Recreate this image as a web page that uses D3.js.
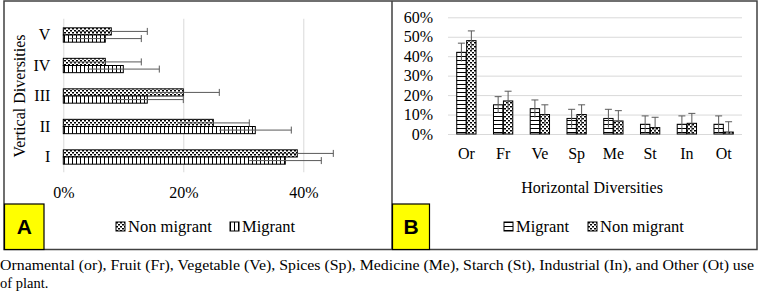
<!DOCTYPE html>
<html lang="en">
<head>
    <meta charset="UTF-8">
    <title>Vertical and Horizontal Diversities</title>
    <style>
        body
        {
            margin: 0;
            background: #ffffff;
        }

        text
        {
            font-family: "Liberation Serif", "Times New Roman", Times, serif;
            fill: #000000;
        }

        .tick text
        {
            font-size: 16px;
            font-family: "Liberation Serif", "Times New Roman", Times, serif;
        }

        .grid .tick line
        {
            stroke: #d9d9d9;
            stroke-width: 1;
        }

        .legend-text
        {
            font-size: 16.5px;
        }

        .panel-tag
        {
            font-family: "Liberation Sans", Arial, sans-serif;
            font-weight: bold;
            font-size: 21px;
        }
    </style>
</head>
<body>

    <svg width="761" height="306"></svg>

    <script src="https://d3js.org/d3.v7.min.js"></script>

    <script>

        // Panel A: vertical diversities (percent)
        const vertCategories = ['I', 'II', 'III', 'IV', 'V'];
        const vertNonMigrant = [39, 25, 20, 7, 8];
        const vertMigrant = [37, 32, 14, 10, 7];
        const vertNonMigrantErr = [6, 6, 6, 6, 6];
        const vertMigrantErr = [6, 6, 6, 6, 6];
        const vertTicks = [0, 20, 40];

        // Panel B: horizontal diversities (percent)
        const horizCategories = ['Or', 'Fr', 'Ve', 'Sp', 'Me', 'St', 'In', 'Ot'];
        const horizMigrant = [42, 15, 13, 8, 8, 5, 5, 5];
        const horizNonMigrant = [48, 17, 10, 10, 6.7, 3.3, 5.5, 1];
        const horizMigrantErr = [4.7, 4.2, 4.5, 4.7, 4.7, 4.3, 4.3, 4.3];
        const horizNonMigrantErr = [5, 5, 5, 5, 5.3, 5.3, 5.1, 5.3];
        const horizTicks = [0, 10, 20, 30, 40, 50, 60];

        const seriesNames = ['Non migrant', 'Migrant'];

        const caption1 = 'Ornamental (or), Fruit (Fr), Vegetable (Ve), Spices (Sp), Medicine (Me), Starch (St), Industrial (In), and Other (Ot) use';
        const caption2 = 'of plant.';

        const errColor = '#595959';
        const capSize = 7;

        const svg = d3.select('svg');

        // Fill patterns
        const defs = svg.append('defs');

        const dots = defs
            .append('pattern')
            .attr('id', 'dots')
            .attr('patternUnits', 'userSpaceOnUse')
            .attr('width', 4)
            .attr('height', 4);
        dots.append('rect').attr('width', 4).attr('height', 4).attr('fill', '#fff');
        dots.append('rect').attr('x', 0).attr('y', 0).attr('width', 2).attr('height', 1.5).attr('fill', '#000');
        dots.append('rect').attr('x', 2).attr('y', 2).attr('width', 2).attr('height', 1.5).attr('fill', '#000');

        const vlines = defs
            .append('pattern')
            .attr('id', 'vlines')
            .attr('patternUnits', 'userSpaceOnUse')
            .attr('width', 4)
            .attr('height', 4);
        vlines.append('rect').attr('width', 4).attr('height', 4).attr('fill', '#fff');
        vlines.append('rect').attr('x', 0).attr('y', 0).attr('width', 1).attr('height', 4).attr('fill', '#000');

        const hlines = defs
            .append('pattern')
            .attr('id', 'hlines')
            .attr('patternUnits', 'userSpaceOnUse')
            .attr('width', 4)
            .attr('height', 4);
        hlines.append('rect').attr('width', 4).attr('height', 4).attr('fill', '#fff');
        hlines.append('rect').attr('x', 0).attr('y', 0).attr('width', 4).attr('height', 1).attr('fill', '#000');

        // ---------- Panel A ----------

        const aLeft = 63.3, aTop = 19.75, aBottom = 172.25;

        const xA = d3.scaleLinear()
            .domain([0, 40])
            .range([aLeft, aLeft + 240]);

        const yA = d3.scaleBand()
            .domain(vertCategories.slice().reverse())
            .range([aTop, aBottom])
            .paddingInner(0.53)
            .paddingOuter(0.265);

        const yAInner = d3.scaleBand()
            .domain(seriesNames)
            .range([0, yA.bandwidth()]);

        svg.append('g')
            .attr('class', 'grid')
            .attr('transform', 'translate(0 ' + aBottom + ')')
            .call(d3.axisBottom(xA)
                .tickValues(vertTicks)
                .tickSize(-(aBottom - aTop + 1))
                .tickPadding(14)
                .tickFormat(function (d) { return d + '%'; }))
            .call(function (g) { g.select('.domain').remove(); });

        svg.append('g')
            .attr('transform', 'translate(' + aLeft + ' 0)')
            .call(d3.axisLeft(yA).tickSize(0).tickPadding(13))
            .call(function (g) { g.select('.domain').remove(); });

        const vertRows = vertCategories.map(function (c, i) {
            return [
                { cat: c, series: 'Non migrant', value: vertNonMigrant[i], err: vertNonMigrantErr[i], fill: 'url(#dots)' },
                { cat: c, series: 'Migrant', value: vertMigrant[i], err: vertMigrantErr[i], fill: 'url(#vlines)' }
            ];
        }).flat();

        svg.append('g')
            .selectAll('rect')
            .data(vertRows)
            .join('rect')
            .attr('x', xA(0))
            .attr('y', function (d) { return yA(d.cat) + yAInner(d.series); })
            .attr('width', function (d) { return xA(d.value) - xA(0); })
            .attr('height', yAInner.bandwidth())
            .attr('fill', function (d) { return d.fill; })
            .attr('stroke', '#000')
            .attr('stroke-width', 1);

        const errA = svg.append('g')
            .attr('stroke', errColor)
            .attr('stroke-width', 1)
            .selectAll('g')
            .data(vertRows)
            .join('g')
            .attr('transform', function (d) {
                return 'translate(0 ' + (yA(d.cat) + yAInner(d.series) + yAInner.bandwidth() / 2) + ')';
            });
        errA.append('line')
            .attr('x1', function (d) { return xA(d.value - d.err); })
            .attr('x2', function (d) { return xA(d.value + d.err); });
        errA.append('line')
            .attr('x1', function (d) { return xA(d.value + d.err); })
            .attr('x2', function (d) { return xA(d.value + d.err); })
            .attr('y1', -capSize / 2)
            .attr('y2', capSize / 2);

        svg.append('text')
            .text('Vertical Diversities')
            .attr('transform', 'translate(25 96) rotate(-90)')
            .attr('text-anchor', 'middle')
            .style('font-size', '16px');

        // ---------- Panel B ----------

        const bLeft = 448, bRight = 742, bBottom = 134, bTop = 17.3;

        const xB = d3.scaleBand()
            .domain(horizCategories)
            .range([bLeft, bRight])
            .paddingInner(0.475)
            .paddingOuter(0.2375);

        const xBInner = d3.scaleBand()
            .domain(['Migrant', 'Non migrant'])
            .range([0, xB.bandwidth()])
            .paddingInner(0.06);

        const yB = d3.scaleLinear()
            .domain([0, 60])
            .range([bBottom, bTop]);

        svg.append('g')
            .attr('class', 'grid')
            .attr('transform', 'translate(' + bLeft + ' 0)')
            .call(d3.axisLeft(yB)
                .tickValues(horizTicks)
                .tickSize(-(bRight - bLeft))
                .tickPadding(15)
                .tickFormat(function (d) { return d + '%'; }))
            .call(function (g) { g.select('.domain').remove(); });

        svg.append('g')
            .attr('transform', 'translate(0 ' + bBottom + ')')
            .call(d3.axisBottom(xB).tickSize(0).tickPadding(14))
            .call(function (g) { g.select('.domain').remove(); });

        const horizRows = horizCategories.map(function (c, i) {
            return [
                { cat: c, series: 'Migrant', value: horizMigrant[i], err: horizMigrantErr[i], fill: 'url(#hlines)' },
                { cat: c, series: 'Non migrant', value: horizNonMigrant[i], err: horizNonMigrantErr[i], fill: 'url(#dots)' }
            ];
        }).flat();

        svg.append('g')
            .selectAll('rect')
            .data(horizRows)
            .join('rect')
            .attr('x', function (d) { return xB(d.cat) + xBInner(d.series); })
            .attr('y', function (d) { return yB(d.value); })
            .attr('width', xBInner.bandwidth())
            .attr('height', function (d) { return yB(0) - yB(d.value); })
            .attr('fill', function (d) { return d.fill; })
            .attr('stroke', '#000')
            .attr('stroke-width', 1);

        const errB = svg.append('g')
            .attr('stroke', errColor)
            .attr('stroke-width', 1)
            .selectAll('g')
            .data(horizRows)
            .join('g')
            .attr('transform', function (d) {
                return 'translate(' + (xB(d.cat) + xBInner(d.series) + xBInner.bandwidth() / 2) + ' 0)';
            });
        errB.append('line')
            .attr('y1', function (d) { return yB(Math.max(0, d.value - d.err)); })
            .attr('y2', function (d) { return yB(d.value + d.err); });
        errB.append('line')
            .attr('x1', -capSize / 2)
            .attr('x2', capSize / 2)
            .attr('y1', function (d) { return yB(d.value + d.err); })
            .attr('y2', function (d) { return yB(d.value + d.err); });

        svg.append('text')
            .text('Horizontal Diversities')
            .attr('x', 592)
            .attr('y', 193)
            .attr('text-anchor', 'middle')
            .style('font-size', '16px');

        // ---------- Legends ----------

        const legendItems = [
            { x: 116, label: 'Non migrant', fill: 'url(#dots)' },
            { x: 230, label: 'Migrant', fill: 'url(#vlines)' },
            { x: 504, label: 'Migrant', fill: 'url(#hlines)' },
            { x: 588, label: 'Non migrant', fill: 'url(#dots)' }
        ];

        const legend = svg.append('g')
            .selectAll('g')
            .data(legendItems)
            .join('g')
            .attr('transform', function (d) { return 'translate(' + d.x + ' 222)'; });
        legend.append('rect')
            .attr('width', 9)
            .attr('height', 9)
            .attr('fill', function (d) { return d.fill; })
            .attr('stroke', '#000')
            .attr('stroke-width', 1);
        legend.append('text')
            .attr('class', 'legend-text')
            .attr('x', 12)
            .attr('y', 10)
            .text(function (d) { return d.label; });

        // ---------- Frames and tags ----------

        const frame = svg.append('g')
            .attr('fill', 'none')
            .attr('stroke', '#404040')
            .attr('stroke-width', 1.5);
        frame.append('rect')
            .attr('x', 4)
            .attr('y', 1)
            .attr('width', 753)
            .attr('height', 248.5);
        frame.append('line')
            .attr('x1', 392)
            .attr('x2', 392)
            .attr('y1', 1)
            .attr('y2', 249.5);

        const tags = [
            { x: 4.5, w: 39.5, label: 'A' },
            { x: 392.5, w: 37, label: 'B' }
        ];
        const tag = svg.append('g')
            .selectAll('g')
            .data(tags)
            .join('g');
        tag.append('rect')
            .attr('x', function (d) { return d.x; })
            .attr('y', 204)
            .attr('width', function (d) { return d.w; })
            .attr('height', 45.5)
            .attr('fill', '#ffff00')
            .attr('stroke', '#000')
            .attr('stroke-width', 1.2);
        tag.append('text')
            .attr('class', 'panel-tag')
            .attr('x', function (d) { return d.x + d.w / 2; })
            .attr('y', 234)
            .attr('text-anchor', 'middle')
            .text(function (d) { return d.label; });

        // ---------- Caption ----------

        svg.append('text')
            .text(caption1)
            .attr('x', 0)
            .attr('y', 270)
            .attr('textLength', 754)
            .attr('lengthAdjust', 'spacingAndGlyphs')
            .style('font-size', '14.5px');

        svg.append('text')
            .text(caption2)
            .attr('x', 0)
            .attr('y', 288)
            .style('font-size', '14.5px');

    </script>

</body>
</html>
